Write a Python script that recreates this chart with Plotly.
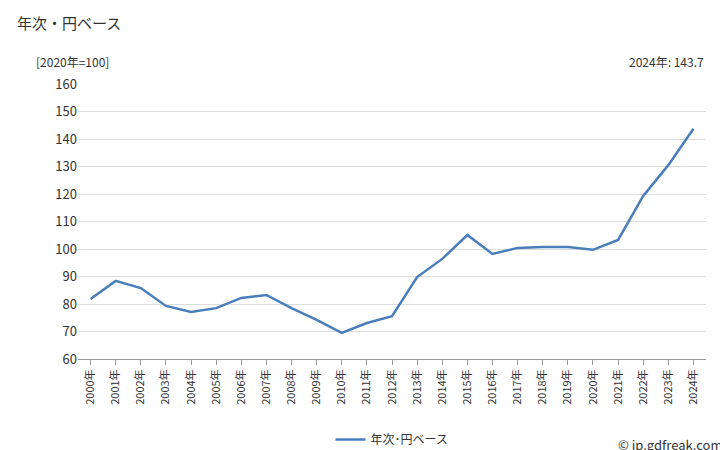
import plotly.graph_objects as go

years = [f"{y}年" for y in range(2000, 2025)]
values = [81.8, 88.4, 85.8, 79.3, 77.1, 78.5, 82.2, 83.3, 78.5, 74.2, 69.5, 73.1, 75.6,
          89.8, 96.4, 105.1, 98.2, 100.4, 100.7, 100.7, 99.7, 103.3, 119.3, 130.5, 143.7]
series_name = "年次･円ベース"

fig = go.Figure()
fig.add_trace(go.Scatter(x=years, y=values, mode="lines", name=series_name,
                         line=dict(color="#4a7ebb", width=2.5)))

font = "Noto Sans CJK JP"
fig.update_layout(
    width=728, height=450,
    paper_bgcolor="white", plot_bgcolor="white",
    font=dict(family=font, size=12, color="#333"),
    margin=dict(l=70, r=30, t=76, b=99, autoexpand=False),
    showlegend=True,
    legend=dict(orientation="h", x=0.5, xanchor="center", y=-0.24, yanchor="top",
                font=dict(size=12)),
    xaxis=dict(showgrid=False, tickangle=-90, ticks="outside", ticklen=5,
               tickcolor="#999", showline=True, linecolor="#999",
               range=[-0.5, 24.5], automargin=False, tickfont=dict(size=11)),
    yaxis=dict(range=[60, 160], dtick=10, gridcolor="#ddd", showline=False,
               zeroline=False, automargin=False, tickfont=dict(size=13)),
)
fig.add_annotation(text="年次・円ベース", xref="paper", yref="paper", x=-0.1, y=1.27,
                   xanchor="left", yanchor="top", showarrow=False, font=dict(size=15))
fig.add_annotation(text="[2020年=100]", xref="paper", yref="paper", x=-0.07, y=1.12,
                   xanchor="left", yanchor="top", showarrow=False, font=dict(size=12))
fig.add_annotation(text="2024年: 143.7", xref="paper", yref="paper", x=1.0, y=1.12,
                   xanchor="right", yanchor="top", showarrow=False, font=dict(size=12))
fig.add_annotation(text="© jp.gdfreak.com", xref="paper", yref="paper", x=1.03, y=-0.27,
                   xanchor="right", yanchor="top", showarrow=False, font=dict(size=13))

fig.write_html("out.html")
